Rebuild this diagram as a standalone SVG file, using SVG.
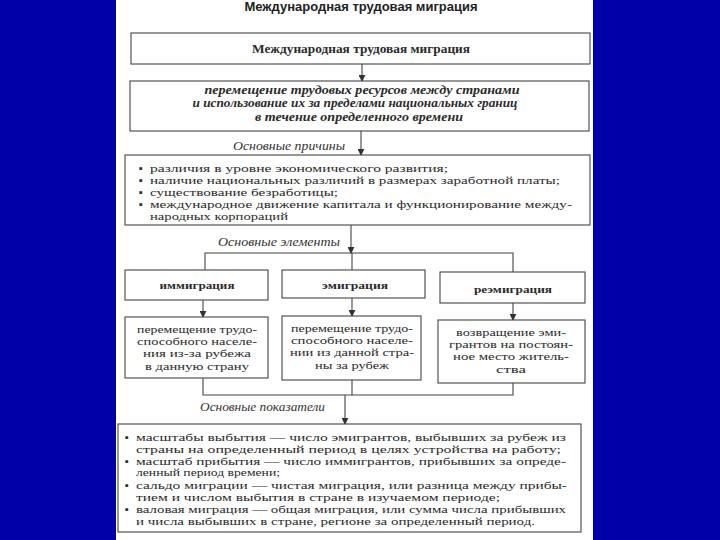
<svg xmlns="http://www.w3.org/2000/svg" width="720" height="540" viewBox="0 0 720 540">
<defs>
<marker id="ah" viewBox="0 0 8 8" refX="7" refY="4" markerWidth="7" markerHeight="7" markerUnits="userSpaceOnUse" orient="auto">
<path d="M0,0 L8,4 L0,8 z" fill="#333"/>
</marker>
<style>
.box{fill:#fff;stroke:#444;stroke-width:1.1}
.ln{fill:none;stroke:#444;stroke-width:1.1}
.t{font-family:"Liberation Serif","DejaVu Serif",serif;font-size:11px;fill:#2a2a2a}
.h{font-size:12px}
.c{text-anchor:middle}
.b{font-weight:bold}
.i{font-style:italic}
.lab{font-family:"Liberation Serif","DejaVu Serif",serif;font-size:11.5px;font-style:italic;fill:#333}
.ttl{font-family:"Liberation Sans","Arial",sans-serif;font-size:12.5px;font-weight:bold;fill:#222}
</style>
</defs>
<rect x="0" y="0" width="720" height="540" fill="#0000a8"/>
<rect x="116" y="0" width="477" height="540" fill="#ffffff"/>
<text class="ttl c" x="361" y="11" textLength="233" lengthAdjust="spacingAndGlyphs">Международная трудовая миграция</text>

<g id="connectors">
<line class="ln" x1="362" y1="64" x2="362" y2="81" marker-end="url(#ah)"/>
<line class="ln" x1="361" y1="131" x2="361" y2="155" marker-end="url(#ah)"/>
<line class="ln" x1="351" y1="225" x2="351" y2="253" marker-end="url(#ah)"/>
<polyline class="ln" points="205,270 205,253 513,253 513,272"/>
<line class="ln" x1="352" y1="253" x2="352" y2="270"/>
<line class="ln" x1="203" y1="300" x2="203" y2="317" marker-end="url(#ah)"/>
<line class="ln" x1="352" y1="298" x2="352" y2="316" marker-end="url(#ah)"/>
<line class="ln" x1="513" y1="303" x2="513" y2="320" marker-end="url(#ah)"/>
<polyline class="ln" points="203,378 203,395 513,395 513,383"/>
<line class="ln" x1="352" y1="380" x2="352" y2="395"/>
<line class="ln" x1="345" y1="395" x2="345" y2="424" marker-end="url(#ah)"/>
</g>

<g id="n1">
<rect class="box" x="131" y="33" width="459" height="31"/>
<text class="t h b c" x="361" y="53" textLength="218" lengthAdjust="spacingAndGlyphs">Международная трудовая миграция</text>
</g>

<g id="n2">
<rect class="box" x="130" y="81" width="459" height="50"/>
<text class="t h b i c" x="362" y="94" textLength="315" lengthAdjust="spacingAndGlyphs">перемещение трудовых ресурсов между странами</text>
<text class="t h b i c" x="355" y="107" textLength="325" lengthAdjust="spacingAndGlyphs">и использование их за пределами национальных границ</text>
<text class="t h b i c" x="359" y="121" textLength="208" lengthAdjust="spacingAndGlyphs">в течение определенного времени</text>
</g>

<text class="lab" x="233" y="150" textLength="112" lengthAdjust="spacingAndGlyphs">Основные причины</text>

<g id="n3">
<rect class="box" x="125" y="155" width="465" height="70"/>
<text class="t" x="139" y="172">▪</text>
<text class="t" x="150" y="172" textLength="298" lengthAdjust="spacingAndGlyphs">различия в уровне экономического развития;</text>
<text class="t" x="139" y="184">▪</text>
<text class="t" x="150" y="184" textLength="410" lengthAdjust="spacingAndGlyphs">наличие национальных различий в размерах заработной платы;</text>
<text class="t" x="139" y="196">▪</text>
<text class="t" x="150" y="196" textLength="188" lengthAdjust="spacingAndGlyphs">существование безработицы;</text>
<text class="t" x="139" y="208">▪</text>
<text class="t" x="150" y="208" textLength="422" lengthAdjust="spacingAndGlyphs">международное движение капитала и функционирование между-</text>
<text class="t" x="150" y="220" textLength="138" lengthAdjust="spacingAndGlyphs">народных корпораций</text>
</g>

<text class="lab" x="218" y="246" textLength="122" lengthAdjust="spacingAndGlyphs">Основные элементы</text>

<g id="n4">
<rect class="box" x="125" y="270" width="143" height="30"/>
<text class="t b c" x="197" y="289" textLength="75" lengthAdjust="spacingAndGlyphs">иммиграция</text>
</g>
<g id="n5">
<rect class="box" x="282" y="270" width="143" height="28"/>
<text class="t b c" x="355" y="289" textLength="66" lengthAdjust="spacingAndGlyphs">эмиграция</text>
</g>
<g id="n6">
<rect class="box" x="440" y="272" width="145" height="31"/>
<text class="t b c" x="513" y="293" textLength="78" lengthAdjust="spacingAndGlyphs">реэмиграция</text>
</g>

<g id="n7">
<rect class="box" x="125" y="317" width="143" height="61"/>
<text class="t c" x="197" y="333" textLength="120" lengthAdjust="spacingAndGlyphs">перемещение трудо-</text>
<text class="t c" x="197" y="345" textLength="120" lengthAdjust="spacingAndGlyphs">способного населе-</text>
<text class="t c" x="197" y="357" textLength="108" lengthAdjust="spacingAndGlyphs">ния из-за рубежа</text>
<text class="t c" x="197" y="370" textLength="104" lengthAdjust="spacingAndGlyphs">в данную страну</text>
</g>
<g id="n8">
<rect class="box" x="282" y="316" width="139" height="64"/>
<text class="t c" x="352" y="332" textLength="122" lengthAdjust="spacingAndGlyphs">перемещение трудо-</text>
<text class="t c" x="352" y="344" textLength="122" lengthAdjust="spacingAndGlyphs">способного населе-</text>
<text class="t c" x="352" y="356" textLength="124" lengthAdjust="spacingAndGlyphs">нии из данной стра-</text>
<text class="t c" x="352" y="369" textLength="74" lengthAdjust="spacingAndGlyphs">ны за рубеж</text>
</g>
<g id="n9">
<rect class="box" x="438" y="320" width="147" height="63"/>
<text class="t c" x="511" y="336" textLength="110" lengthAdjust="spacingAndGlyphs">возвращение эми-</text>
<text class="t c" x="511" y="348" textLength="124" lengthAdjust="spacingAndGlyphs">грантов на постоян-</text>
<text class="t c" x="511" y="360" textLength="116" lengthAdjust="spacingAndGlyphs">ное место житель-</text>
<text class="t c" x="511" y="373" textLength="30" lengthAdjust="spacingAndGlyphs">ства</text>
</g>

<text class="lab" x="200" y="411" textLength="125" lengthAdjust="spacingAndGlyphs">Основные показатели</text>

<g id="n10">
<rect class="box" x="118" y="424" width="463" height="108"/>
<text class="t" x="125" y="441">▪</text>
<text class="t" x="136" y="441" textLength="430" lengthAdjust="spacingAndGlyphs">масштабы выбытия — число эмигрантов, выбывших за рубеж из</text>
<text class="t" x="136" y="453" textLength="425" lengthAdjust="spacingAndGlyphs">страны на определенный период в целях устройства на работу;</text>
<text class="t" x="125" y="465">▪</text>
<text class="t" x="136" y="465" textLength="430" lengthAdjust="spacingAndGlyphs">масштаб прибытия — число иммигрантов, прибывших за опреде-</text>
<text class="t" x="136" y="476" textLength="144" lengthAdjust="spacingAndGlyphs">ленный период времени;</text>
<text class="t" x="125" y="489">▪</text>
<text class="t" x="136" y="489" textLength="431" lengthAdjust="spacingAndGlyphs">сальдо миграции — чистая миграция, или разница между прибы-</text>
<text class="t" x="136" y="501" textLength="364" lengthAdjust="spacingAndGlyphs">тием и числом выбытия в стране в изучаемом периоде;</text>
<text class="t" x="125" y="513">▪</text>
<text class="t" x="136" y="513" textLength="430" lengthAdjust="spacingAndGlyphs">валовая миграция — общая миграция, или сумма числа прибывших</text>
<text class="t" x="136" y="525" textLength="399" lengthAdjust="spacingAndGlyphs">и числа выбывших в стране, регионе за определенный период.</text>
</g>
</svg>
